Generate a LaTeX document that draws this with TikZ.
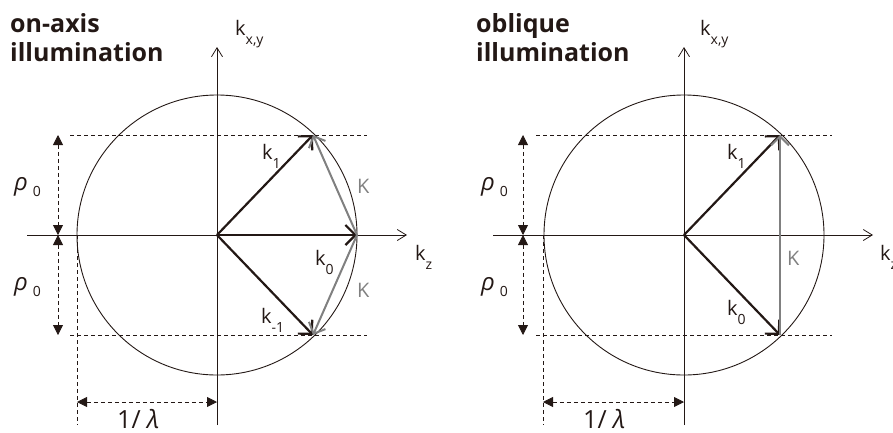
\documentclass[tikz,border=0pt]{standalone}
\usepackage{fontspec}
\setmainfont{Open Sans}
\usetikzlibrary{arrows.meta,positioning}

\definecolor{ink}{RGB}{35,24,21}
\newcommand{\lsub}[1]{\raisebox{-9pt}{\fontsize{14}{14}\selectfont #1}}
\newcommand{\rhosub}{{\fontsize{24}{24}\selectfont\textit{ρ}}\hspace{5pt}\raisebox{-6pt}{\fontsize{14}{14}\selectfont 0}}

\begin{document}
\begin{tikzpicture}[
  x=1pt, y=-1pt, color=ink,
  axis/.style={line width=0.8pt, -{Straight Barb[length=9pt,width=11pt]}},
  ring/.style={line width=0.9pt},
  guide/.style={line width=0.8pt, dash pattern=on 4pt off 3pt},
  span/.style={guide, {Triangle[length=10pt,width=10pt]}-{Triangle[length=10pt,width=10pt]}},
  wave/.style={line width=2.2pt, -{Straight Barb[length=10pt,width=20pt]}},
  grating/.style={line width=2pt, black!50, -{Straight Barb[length=9pt,width=18pt]}},
  title/.style={font=\fontsize{25}{29}\selectfont\bfseries, align=left, anchor=north west, inner sep=0pt},
  lab/.style={font=\fontsize{20}{22}\selectfont, inner sep=0pt, anchor=base west},
  glab/.style={lab, text=black!50}
]
  \useasboundingbox (0,0) rectangle (893,432);

  % on-axis illumination
  \node[title] (titleA) at (10,13) {on-axis\\illumination};
  \begin{scope}[shift={(217,235)}]
    \coordinate (A0) at (0,0);
    \coordinate (A1) at (96,-100);
    \coordinate (Az) at (140,0);
    \coordinate (Am) at (96,100);
    \coordinate (Ra) at (-159,-100);
    \coordinate (Rb) at (-159,0);
    \coordinate (Rc) at (-159,100);
    \coordinate (La) at (-140,167);
    \coordinate (Lb) at (0,167);

    \draw[ring] (A0) circle[radius=140];
    \draw[axis] (-190,0) -- (190,0);
    \draw[axis] (0,190) -- (0,-188);
    \draw[guide] (-147,-100) -- (150,-100);
    \draw[guide] (-147,100) -- (150,100);
    \draw[guide] (-140,0) -- (-140,190);

    \draw[span] (Ra) -- (Rb);
    \draw[span] (Rb) -- (Rc);
    \draw[span] (La) -- (Lb);

    \draw[wave] (A0) -- (A1);
    \draw[wave] (A0) -- (Az);
    \draw[wave] (A0) -- (Am);
    \draw[grating] (Az) -- (A1);
    \draw[grating] (Az) -- (Am);

    \node[lab] (kxyA) at (18,-200) {k\lsub{x,y}};
    \node[lab] (kzA) at (198,25) {k\lsub{z}};
    \node[lab] (k1A) at (45,-76) {k\lsub{1}};
    \node[lab] (k0A) at (98,30) {k\lsub{0}};
    \node[lab] (kmA) at (44,88) {k\lsub{-1}};
    \node[glab] (KuA) at (140,-42) {K};
    \node[glab] (KdA) at (140,62) {K};
    \node[lab] (rhouA) at (-203,-45) {\rhosub};
    \node[lab] (rhodA) at (-203,55) {\rhosub};
    \node[lab, font=\fontsize{25}{27}\selectfont] (lamA) at (-100,193) {1/ \textit{λ}};
  \end{scope}

  % oblique illumination
  \node[title] (titleB) at (476,13) {oblique\\illumination};
  \begin{scope}[shift={(684,235)}]
    \coordinate (B0) at (0,0);
    \coordinate (B1) at (96,-100);
    \coordinate (Bm) at (96,100);
    \coordinate (Sa) at (-161,-100);
    \coordinate (Sb) at (-161,0);
    \coordinate (Sc) at (-161,100);
    \coordinate (Ma) at (-141,167);
    \coordinate (Mb) at (0,167);

    \draw[ring] (B0) circle[radius=140];
    \draw[axis] (-191,0) -- (189,0);
    \draw[axis] (0,190) -- (0,-188);
    \draw[guide] (-148,-100) -- (148,-100);
    \draw[guide] (-148,100) -- (148,100);
    \draw[guide] (-141,0) -- (-141,190);

    \draw[span] (Sa) -- (Sb);
    \draw[span] (Sb) -- (Sc);
    \draw[span] (Ma) -- (Mb);

    \draw[wave] (B0) -- (B1);
    \draw[wave] (B0) -- (Bm);
    \draw[grating] (Bm) -- (B1);

    \node[lab] (kxyB) at (16,-200) {k\lsub{x,y}};
    \node[lab] (kzB) at (196,25) {k\lsub{z}};
    \node[lab] (k1B) at (43,-76) {k\lsub{1}};
    \node[lab] (k0B) at (43,80) {k\lsub{0}};
    \node[glab] (KB) at (103,30) {K};
    \node[lab] (rhouB) at (-203,-45) {\rhosub};
    \node[lab] (rhodB) at (-203,55) {\rhosub};
    \node[lab, font=\fontsize{25}{27}\selectfont] (lamB) at (-101,193) {1/ \textit{λ}};
  \end{scope}
\end{tikzpicture}
\end{document}
